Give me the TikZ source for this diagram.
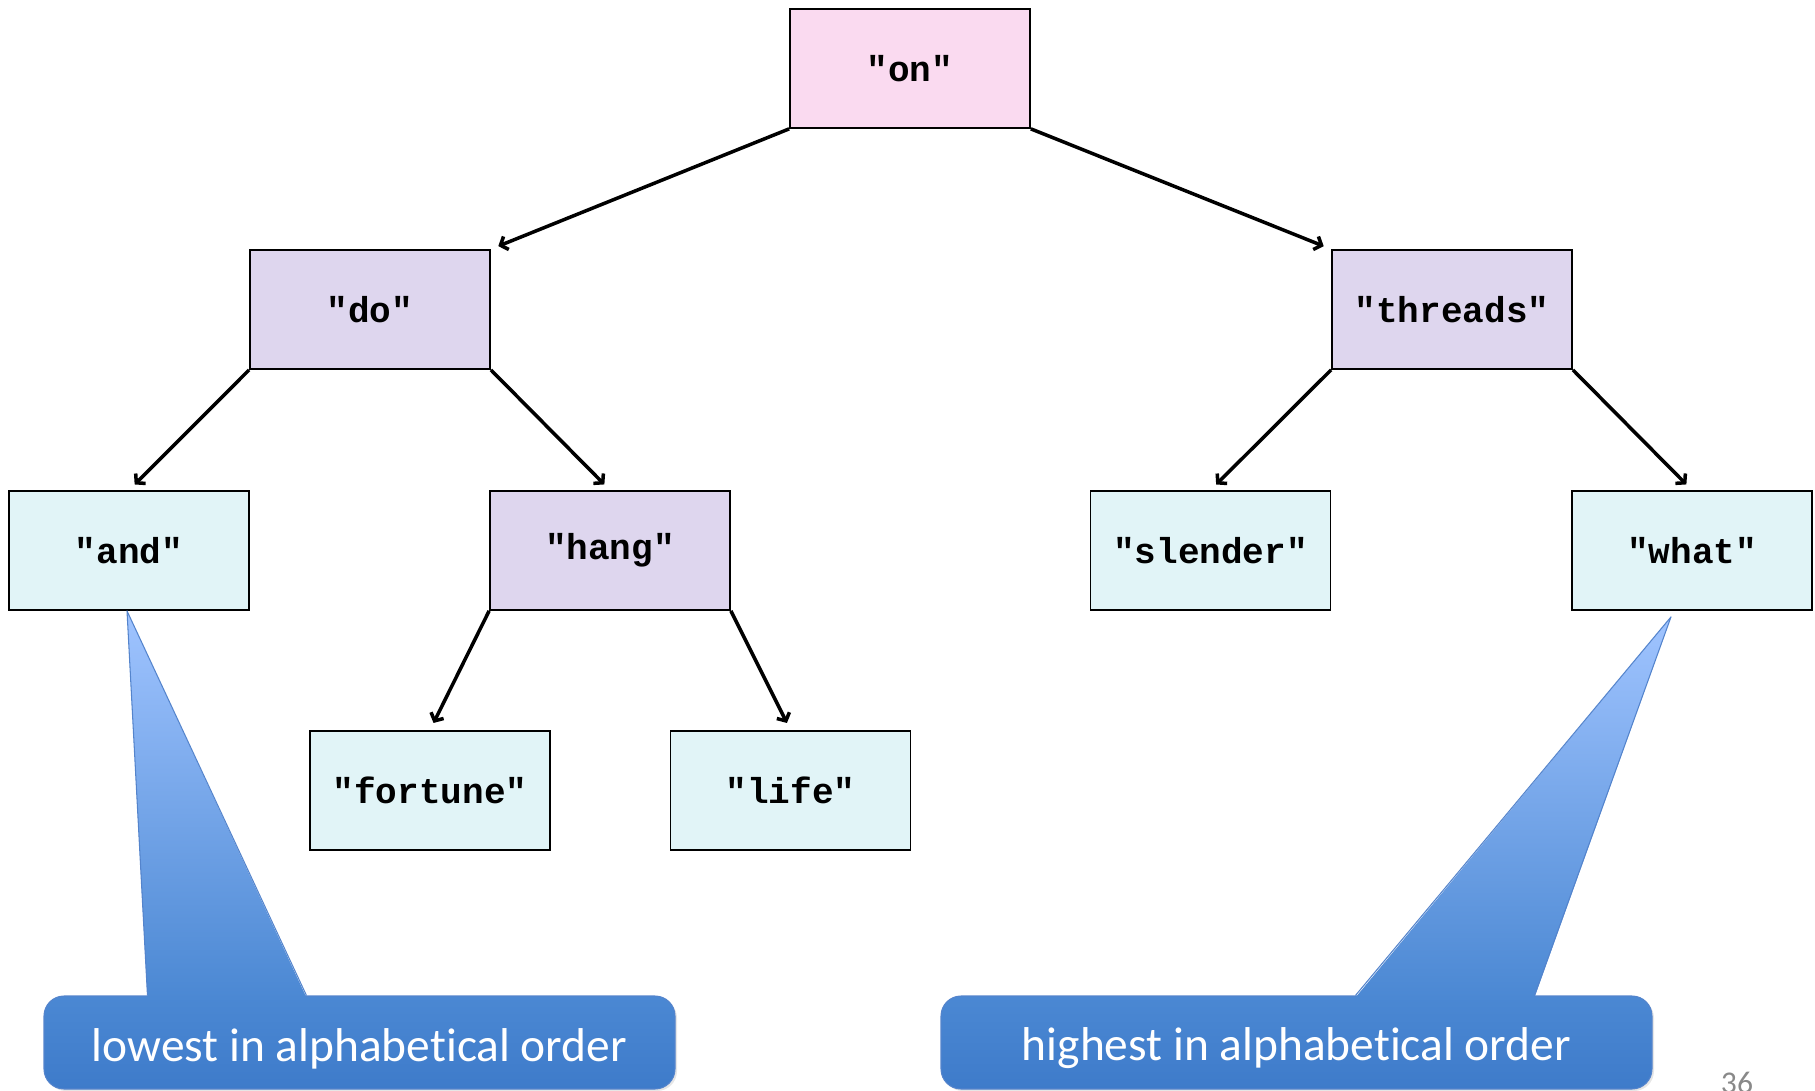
\documentclass[tikz,border=0pt]{standalone}
\usepackage{fontspec}
\setmonofont{Liberation Mono}
\newfontfamily\calibrifont[Ligatures=NoCommon]{Carlito}
\usetikzlibrary{arrows.meta}
\usetikzlibrary{positioning}
\usetikzlibrary{shadows}

\definecolor{rootpink}{RGB}{250,218,240}
\definecolor{innerlilac}{RGB}{222,214,238}
\definecolor{leafcyan}{RGB}{225,244,247}
\definecolor{callouttop}{RGB}{75,136,211}
\definecolor{calloutbottom}{RGB}{62,123,202}
\definecolor{pointertop}{RGB}{160,196,255}
\definecolor{calloutline}{RGB}{84,132,204}
\definecolor{pagegray}{RGB}{137,137,137}

\begin{document}
\begin{tikzpicture}[node distance=4.82cm,on grid,auto,
    >={Straight Barb[length=3.5pt,width=8pt]},
    key/.style={draw=black,line width=1pt,minimum width=4.8cm,minimum height=2.38cm,
      font=\ttfamily\bfseries\fontsize{20.5}{24}\selectfont},
    root/.style={key,fill=rootpink},
    inner/.style={key,fill=innerlilac},
    leaf/.style={key,fill=leafcyan},
    link/.style={line width=2pt,shorten >=0.16cm},
    callout/.style={draw=calloutline,line width=0.6pt,rounded corners=0.4cm,
      top color=callouttop,bottom color=calloutbottom,
      minimum height=1.86cm,text=white,font=\calibrifont\fontsize{27}{32}\selectfont,
      drop shadow={opacity=0.2,shadow xshift=0.04cm,shadow yshift=-0.04cm}},
    pointer/.style={top color=pointertop,bottom color=callouttop},
    pointerside/.style={draw=calloutline,line width=0.6pt,line join=round},
    pagenum/.style={text=pagegray,font=\calibrifont\fontsize{18}{20}\selectfont}]
   \useasboundingbox (0,0) rectangle (36.3,-21.82);

   % the tree
   \node[root] (on) at (18.2,-1.37) {"on"};
   \node[inner] (do) [below left=4.82cm and 10.8cm of on] {"do"};
   \node[inner] (threads) [below right=4.82cm and 10.84cm of on] {"threads"};
   \node[leaf] (and) [below left=4.82cm and 4.82cm of do] {"and"};
   \node[inner] (hang) [below right=4.82cm and 4.8cm of do] {"hang"};
   \node[leaf] (slender) [below left=4.82cm and 4.83cm of threads] {"slender"};
   \node[leaf] (what) [below right=4.82cm and 4.8cm of threads] {"what"};
   \node[leaf] (fortune) [below left=4.8cm and 3.6cm of hang] {"fortune"};
   \node[leaf] (life) [below right=4.8cm and 3.61cm of hang] {"life"};

    \path[->,link]
    (on.south west) edge (do.north east)
    (on.south east) edge (threads.north west)
    (do.south west) edge (and.north)
    (do.south east) edge (hang.north)
    (threads.south west) edge (slender.north)
    (threads.south east) edge (what.north)
    (hang.south west) edge (fortune.north)
    (hang.south east) edge (life.north);

   % callouts
   \node[callout,minimum width=12.62cm] (low) at (7.19,-20.85)
     {\raisebox{-0.12cm}[\height][\depth]{lowest in alphabetical order}};
   \node[callout,minimum width=14.22cm] (high) at (25.93,-20.85)
     {\raisebox{-0.12cm}[\height][\depth]{highest in alphabetical order}};

   \coordinate (lowbl) at ([xshift=2.08cm,yshift=-0.04cm]low.north west);
   \coordinate (lowbr) at ([xshift=5.26cm,yshift=-0.04cm]low.north west);
   \coordinate (lowtip) at ([xshift=-0.04cm]and.south);
   \shade[pointer] (lowbl) -- (lowtip) -- (lowbr) -- cycle;
   \draw[pointerside] ([yshift=0.04cm]lowbl) -- (lowtip) -- ([yshift=0.04cm]lowbr);

   \coordinate (highbl) at ([xshift=8.3cm,yshift=-0.04cm]high.north west);
   \coordinate (highbr) at ([xshift=11.88cm,yshift=-0.04cm]high.north west);
   \coordinate (hightip) at ([xshift=-0.42cm,yshift=-0.12cm]what.south);
   \shade[pointer] (highbl) -- (hightip) -- (highbr) -- cycle;
   \draw[pointerside] ([yshift=0.04cm]highbl) -- (hightip) -- ([yshift=0.04cm]highbr);

   \node[pagenum,anchor=base] (page) at (34.74,-21.86) {36};
\end{tikzpicture}
\end{document}
